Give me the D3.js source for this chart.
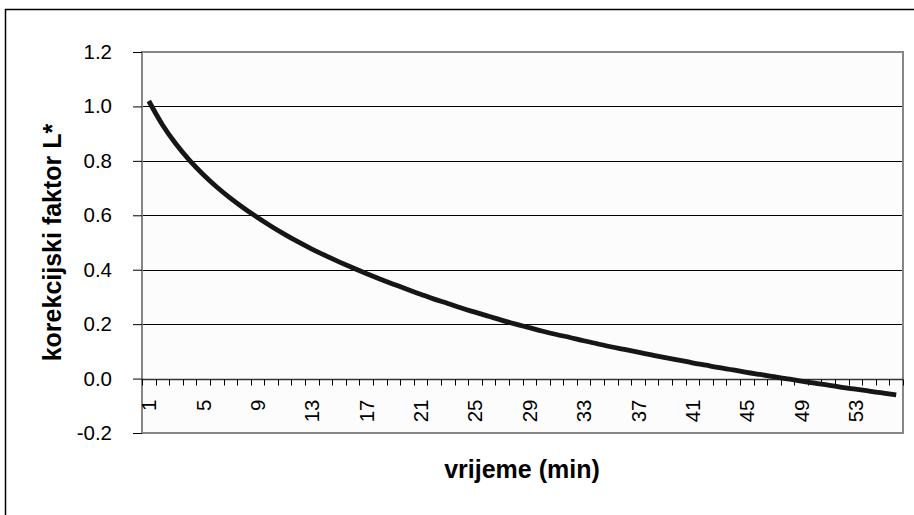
<!DOCTYPE html>
<html><head><meta charset="utf-8">
<script src="https://cdn.jsdelivr.net/npm/d3@7"></script>
<style>html,body{margin:0;padding:0;background:#fff;}svg{display:block;font-family:Arial,"Liberation Sans",sans-serif;}</style>
</head><body>
<svg id="c" width="914" height="515"></svg>
<script>
const minutes = d3.range(1, 57);
const factorL = [1.020,0.933,0.862,0.802,0.750,0.704,0.663,0.626,0.592,0.560,
  0.530,0.502,0.476,0.452,0.429,0.407,0.386,0.366,0.347,0.328,
  0.310,0.292,0.276,0.259,0.244,0.229,0.214,0.200,0.187,0.174,
  0.162,0.151,0.139,0.128,0.117,0.107,0.097,0.087,0.077,0.068,
  0.058,0.049,0.040,0.032,0.023,0.015,0.007,-0.001,-0.009,-0.017,
  -0.024,-0.032,-0.039,-0.046,-0.053,-0.060];
const yTicks = [-0.2,0.0,0.2,0.4,0.6,0.8,1.0,1.2];
const xLabels = [1,5,9,13,17,21,25,29,33,37,41,45,49,53];
const yTitle = "korekcijski faktor L*";
const xTitle = "vrijeme (min)";

const svg = d3.select("#c");
const L = 142, R = 903, T = 52, B = 433;
const tickFont = 20.5, titleFont = 25;

// outer frame
svg.append("rect").attr("x",5.5).attr("y",9.5).attr("width",930).attr("height",530)
  .attr("fill","none").attr("stroke","#000").attr("stroke-width",1.5);

const x = d3.scaleBand().domain(minutes).range([L,R]).padding(0);
const y = d3.scaleLinear().domain([-0.2,1.2]).range([B,T]);

svg.append("rect").attr("x",L).attr("y",T).attr("width",R-L).attr("height",B-T)
  .attr("fill","#fcfcfc");

// gridlines
svg.append("g").selectAll("line").data(yTicks.filter(v=>v>-0.2 && v<1.2 && v!==0)).join("line")
  .attr("x1",L).attr("x2",R).attr("y1",d=>Math.round(y(d))+0.5).attr("y2",d=>Math.round(y(d))+0.5)
  .attr("stroke","#000").attr("stroke-width",1);

// plot border
svg.append("rect").attr("x",L).attr("y",T).attr("width",R-L).attr("height",B-T)
  .attr("fill","none").attr("stroke","#868686").attr("stroke-width",2);

// y axis
const fmt = d => d3.format(".1f")(d).replace("\u2212","-");
const yAxis = d3.axisLeft(y).tickValues(yTicks).tickFormat(fmt).tickSize(9).tickPadding(21);
const gy = svg.append("g").attr("transform",`translate(${L},0)`).call(yAxis);
gy.select(".domain").remove();
gy.selectAll(".tick line").attr("stroke","#000");
gy.selectAll(".tick text").attr("font-size",tickFont).attr("fill","#000").attr("font-family","Arial,'Liberation Sans',sans-serif");

// x axis at zero
const y0 = Math.round(y(0))+0.5;
svg.append("line").attr("x1",L).attr("x2",R).attr("y1",y0).attr("y2",y0).attr("stroke","#333").attr("stroke-width",1.3);
const xt = svg.append("g");
const bounds = minutes.map(m=>x(m)).concat([R]);
xt.selectAll("line").data(bounds).join("line")
  .attr("x1",d=>Math.round(d)+0.5).attr("x2",d=>Math.round(d)+0.5)
  .attr("y1",y0).attr("y2",y0+6).attr("stroke","#000");
xt.selectAll("text").data(xLabels).join("text")
  .attr("transform",d=>`translate(${x(d)+x.bandwidth()/2+7.5},${y0+20}) rotate(-90)`)
  .attr("text-anchor","end").attr("font-size",tickFont).attr("fill","#000").text(d=>d);

// line
const line = d3.line().x((d,i)=>x(minutes[i])+x.bandwidth()/2).y(d=>y(d)).curve(d3.curveMonotoneX);
svg.append("path").datum(factorL).attr("d",line).attr("fill","none")
  .attr("stroke","#161616").attr("stroke-width",4.8).attr("stroke-linecap","butt");

// titles
svg.append("text").attr("transform",`translate(61,${(T+B)/2}) rotate(-90)`)
  .attr("text-anchor","middle").attr("font-size",titleFont).attr("font-weight","bold").text(yTitle);
svg.append("text").attr("x",522).attr("y",478).attr("text-anchor","middle")
  .attr("font-size",titleFont).attr("font-weight","bold").text(xTitle);
</script>
</body></html>
